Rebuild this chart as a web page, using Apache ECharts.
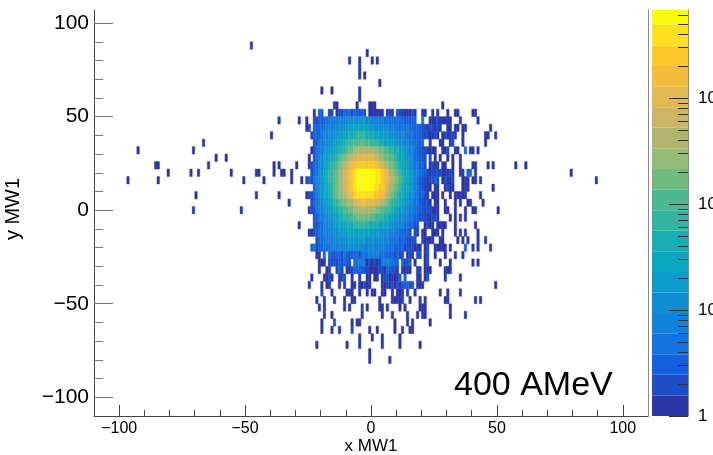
<!DOCTYPE html>
<html>
<head>
<meta charset="utf-8">
<title>x MW1 vs y MW1</title>
<style>
	html, body { margin: 0; padding: 0; background: #fff; }
	#main { width: 713px; height: 455px; }
</style>
<script src="https://cdn.jsdelivr.net/npm/echarts@6/dist/echarts.min.js"></script>
</head>
<body>
<div id="main"></div>
<script>
	/*------------------------------- Data Start -------------------------------*/

	// contour level of each cell, 0 = empty. every row runs x = -26 .. 24, named by its lower y edge
	const y50 = [0,0,0,1,0,3,3,0,0,1, 2,0,1,2,2,3,3,3,2,3, 3,2,3,2,0,1,1,1,1,1, 1,0,1,2,1,0,2,2,1,1, 1,1,2,1,0,0,1,1,0,0,1];
	const y46 = [1,0,0,2,2,3,3,3,4,4, 5,4,5,5,5,5,6,6,6,6, 6,6,7,7,6,6,5,5,5,5, 5,4,4,4,4,4,4,4,3,3, 3,3,3,3,0,0,4,0,0,1,1];
	const y42 = [1,2,0,3,3,3,4,4,5,5, 5,5,6,6,6,6,7,7,8,8, 8,8,8,8,8,7,7,6,6,6, 6,6,5,5,5,5,4,4,4,4, 4,4,3,3,3,3,2,2,1,2,2];
	const y38 = [0,0,2,3,4,3,4,5,5,6, 6,6,7,7,7,8,8,9,9,9, 10,10,10,10,9,9,9,8,8,8, 7,7,7,6,6,6,5,5,5,5, 4,4,4,3,3,3,2,2,2,1,1];
	const y34 = [0,0,0,2,3,4,5,5,6,6, 7,7,8,8,9,9,10,10,11,11, 11,11,12,11,11,11,10,10,10,9, 9,8,8,8,7,7,6,6,6,5, 5,5,4,4,3,3,3,0,0,1,0];
	const y30 = [0,0,1,2,4,4,5,6,7,7, 8,8,9,9,10,10,11,12,12,13, 14,14,14,14,14,14,14,13,13,12, 12,11,11,10,10,9,9,8,8,7, 6,5,5,4,3,3,2,2,1,1,1];
	const y26 = [0,1,0,2,4,5,6,7,7,8, 9,9,10,11,12,12,13,14,15,15, 16,16,16,16,16,16,16,15,15,14, 13,12,12,11,11,10,9,8,8,7, 6,6,5,4,3,3,2,2,0,2,0];
	const y22 = [0,1,2,3,4,5,6,7,8,9, 10,10,11,12,13,14,15,16,17,17, 18,18,18,18,18,18,18,18,17,16, 15,14,13,12,12,11,10,9,8,8, 7,6,5,4,4,3,3,2,0,1,2];
	const y18 = [0,0,2,3,4,6,7,8,9,10, 10,11,12,13,14,15,16,17,18,19, 20,20,20,20,20,20,20,20,19,19, 18,17,16,14,13,12,11,10,9,8, 8,7,6,5,5,4,3,3,2,1,2];
	const y14 = [2,3,2,4,5,6,7,8,9,10, 10,11,12,13,14,15,16,17,18,19, 20,20,20,20,20,20,20,20,19,19, 18,17,16,15,14,13,12,11,10,9, 8,7,6,5,4,3,2,2,1,2,2];
	const y10 = [0,0,0,3,5,6,7,8,9,9, 10,11,12,13,14,15,16,17,18,19, 20,20,20,20,20,20,20,19,19,18, 18,17,15,14,13,12,11,10,9,8, 8,7,6,5,4,3,2,2,1,1,0];
	const y6 = [1,2,2,3,5,6,7,8,8,9, 10,11,12,13,13,14,15,16,17,18, 19,19,19,19,19,19,19,18,18,17, 17,16,14,13,12,11,10,9,9,8, 7,6,6,5,4,3,3,2,1,0,1];
	const y2 = [0,0,2,3,4,5,6,7,8,8, 9,10,10,11,12,12,13,14,14,15, 16,16,17,17,16,16,16,16,15,15, 14,13,12,11,10,10,9,9,8,7, 6,6,5,4,4,3,2,2,2,1,0];
	const yM2 = [0,1,2,2,4,5,5,6,7,7, 8,9,9,10,10,11,11,12,12,13, 14,14,14,14,14,14,13,13,12,12, 11,11,10,10,9,9,8,7,7,6, 5,5,4,4,3,3,2,2,2,2,1];
	const yM6 = [0,0,0,2,3,4,5,5,6,6, 7,7,8,9,9,10,10,10,11,11, 12,12,12,12,12,12,11,11,10,10, 10,9,9,8,8,7,7,6,6,5, 5,4,4,3,3,2,2,2,1,1,2];
	const yM10 = [0,0,0,2,2,3,4,5,5,6, 6,7,7,8,8,8,9,9,9,10, 10,10,10,10,10,9,9,9,9,8, 8,8,7,7,6,6,5,5,5,4, 4,3,3,2,2,0,0,1,2,1,1];
	const yM14 = [0,1,1,2,3,4,4,5,5,5, 6,6,6,7,7,7,8,8,8,8, 8,8,8,8,8,8,7,7,7,7, 6,6,6,5,5,5,4,4,3,3, 3,2,0,2,1,0,1,1,0,0,1];
	const yM18 = [0,0,0,0,2,3,4,4,5,5, 5,5,6,6,6,6,6,7,7,7, 7,7,7,7,6,6,7,6,6,6, 6,5,5,5,4,4,4,3,3,3, 2,2,2,2,0,0,2,1,1,1,1];
	const yM22 = [0,0,3,4,2,3,3,4,4,4, 5,5,5,5,5,5,6,6,6,6, 6,6,6,5,5,5,6,5,5,5, 5,5,4,4,4,3,3,3,3,2, 2,2,2,1,1,1,0,1,2,0,0];
	const yM26 = [0,0,0,0,1,1,0,3,0,3, 3,2,3,3,2,4,3,2,3,3, 4,2,4,4,4,5,5,5,5,4, 4,4,3,3,3,2,3,2,2,0, 1,2,1,0,2,2,0,1,2,0,0];
	const yM30 = [0,0,0,0,0,1,1,1,0,2, 2,2,2,3,2,3,3,2,0,4, 4,5,5,4,1,2,1,2,1,2, 4,5,5,5,4,4,3,0,3,2, 2,3,0,1,0,0,0,1,2,0,0];
	const yM34 = [0,0,0,0,0,1,0,0,1,1, 0,0,2,3,2,0,1,1,2,3, 3,3,3,2,2,1,1,1,1,2, 2,1,3,3,2,2,1,0,1,1, 1,1,0,0,1,2,0,1,1,1,0];

	const denseRows = [
		[50, y50], [46, y46], [42, y42], [38, y38], [34, y34], [30, y30], [26, y26], [22, y22],
		[18, y18], [14, y14], [10, y10], [6, y6], [2, y2], [-2, yM2], [-6, yM6], [-10, yM10],
		[-14, yM14], [-18, yM18], [-22, yM22], [-26, yM26], [-30, yM30], [-34, yM34]
	];

	// single count cells outside the block: [y, [x, x, ...]]
	const tailRows = [
		[86, [-48]],
		[82, [-2]],
		[78, [-9,-5,0,2]],
		[74, [-5]],
		[70, [-5,-3]],
		[66, [3]],
		[62, [-20,-16,-5]],
		[58, [-5]],
		[54, [-15,-14,-6,-1,0,1,28]],
		[50, [26,30,33,34,40,41]],
		[46, [-37,-29,25,27,28,29,30,31,35,42]],
		[42, [25,27,30,31,33,34,36,37,47]],
		[38, [-40,26,28,30,31,33,36,45,46,49]],
		[34, [-67,27,28,31,36,45]],
		[30, [-93,-71,25,28,29,33,34,39,40,42]],
		[26, [-62,-58,25,27,30,32,35]],
		[22, [-86,-85,-65,-39,-37,-30,25,26,28,29,32,35,40,41,46,48,57,61]],
		[18, [-81,-72,-69,-56,-46,-45,-39,-36,-35,-32,28,29,30,32,35,36,41,79]],
		[14, [-97,-85,-51,-43,-32,-28,28,30,31,36,37,38,40,41,43,89]],
		[10, [25,26,29,31,32,36,37,38,48]],
		[6, [-70,-46,-37,25,26,28,31,33,34,35,36,37,43]],
		[2, [-33,25,26,29,33,35,38,39,44]],
		[-2, [-71,-52,25,26,29,30,33,37,40,41,50]],
		[-6, [26,31,33,35,37]],
		[-10, [-29,26,27,28,29,33,41]],
		[-14, [25,26,28,33,35,37,42]],
		[-18, [27,28,34,36,38,42,45]],
		[-22, [25,26,27,28,29,31,40,42,47]],
		[-26, [25,29,33,36]],
		[-30, [27,31,40,42]],
		[-34, [29,30,31]],
		[-38, [-24,-19,-18,-16,-13,-8,-5,-2,-1,1,2,4,7,8,9,10,18,19,21,29,35]],
		[-42, [-25,-20,-18,-17,-13,-11,-8,-7,-5,-4,-2,-1,4,5,7,9,11,18,19,20,49]],
		[-46, [-16,-10,-9,-8,-5,-2,0,1,4,5,8,10,11,12,14,17,27,30,35]],
		[-50, [-22,-19,-15,-11,-8,-7,3,8,9,10,11,12,15,19,21,29,30,41,43]],
		[-54, [-21,-19,-11,-9,-2,3,4,6,11,13,19,20,21,31]],
		[-58, [-19,-16,-4,4,8,14,18,20,21,31,37]],
		[-62, [-20,-8,-6,-5,9,14,16,23]],
		[-66, [-20,-16,-13,-1,2,9,12,15,16]],
		[-70, [-5,0,4,11]],
		[-74, [-22,-10,-5,4,11,19]],
		[-78, [-1]],
		[-82, [-1,7]]
	];

	// the few outside cells that are one or two contours up: [x, y]
	const tailLevel2 = [[-17,-38],[-12,-38],[-11,-38],[5,-38],[6,-38],[22,-38],[-3,-42],[6,-42],[8,-42],[10,-42],[12,-42],[15,-42],[16,-42],
		[-20,-46],[-4,-54],[-15,-62],[-8,-66],[26,46],[26,42],[25,38],[29,38],[32,38],[32,34],[30,30],[25,18],[26,18],[27,18],[31,18],
		[26,14],[29,14],[32,14],[30,10],[25,-6]];
	const tailLevel3 = [[37,30],[38,18],[39,18],[25,14],[37,-22],[11,-38],[13,-38],[13,-42],[14,-42]];

	const firstColumn = -26;

	// palette, bottom contour first
	const contourColors = ['#2b36a8','#1c4cc8','#1461dd','#1272e0','#1281da','#0f8dd2','#0c9acb','#0aa5c0','#17adb2','#32b4a0',
		'#4db98f','#6fbb82','#93bc75','#afb56e','#cbb464','#e0b950','#f2bd3c','#fcc92a','#fee11c','#f9fb0e'];
	const contourEdges = [1,1.56,2.45,3.82,5.98,9.35,14.6,22.9,35.8,56,87.6,137,214,335,524,820,1280,2010,3140,4910,6780];

	const xMajor = [-100,-50,0,50,100];
	const xMinor = [-90,-80,-70,-60,-40,-30,-20,-10,10,20,30,40,60,70,80,90];
	const yMajor = [-100,-50,0,50,100];
	const yMinor = [-90,-80,-70,-60,-40,-30,-20,-10,10,20,30,40,60,70,80,90];
	const zMajor = [1,10,100,1000];
	const zMinor = [2,3,4,5,6,7,8,9,20,30,40,50,60,70,80,90,200,300,400,500,600,700,800,900,2000,3000,4000,5000,6000];

	/*------------------------------- Data End ---------------------------------*/

	const binHeight = 4;
	let cells = [];

	for (let row of denseRows) {
		row[1].forEach(function(level, i) {
			if (level > 0) {
				cells.push([firstColumn + i, row[0], level]);
			}
		});
	}
	for (let row of tailRows) {
		for (let x of row[1]) {
			cells.push([x, row[0], 1]);
		}
	}
	for (let c of tailLevel2) {
		cells.push([c[0], c[1], 2]);
	}
	for (let c of tailLevel3) {
		cells.push([c[0], c[1], 3]);
	}

	let bands = contourColors.map(function(color, i) {
		return [contourEdges[i], contourEdges[i + 1], i];
	});

	const fontName = '"Liberation Sans", Arial, sans-serif';
	const axisColor = '#444';

	let minus = function(value) {
		return String(value).replace('-', '\u2212');
	};

	let chart = echarts.init(document.getElementById('main'), null, { renderer: 'canvas' });

	chart.setOption({
		animation: false,
		backgroundColor: '#fff',
		textStyle: { fontFamily: fontName },
		grid: [
			{ left: 94, top: 10, width: 554, height: 406, outerBoundsMode: 'none' },
			{ left: 652, top: 10, width: 36, height: 406, outerBoundsMode: 'none' }
		],
		xAxis: [
			{
				type: 'value', gridIndex: 0, min: -110, max: 110, position: 'bottom',
				name: 'x MW1', nameLocation: 'middle', nameGap: 22, nameMoveOverlap: false,
				nameTextStyle: { color: '#000', fontSize: 17, fontFamily: fontName },
				axisLine: { show: true, onZero: false, lineStyle: { color: axisColor, width: 1 } },
				axisTick: { show: true, inside: true, length: 11, customValues: xMajor, lineStyle: { color: axisColor, width: 1 } },
				axisLabel: { color: '#000', fontSize: 16, margin: 5, customValues: xMajor, formatter: minus, fontFamily: fontName },
				splitLine: { show: false }
			}, {
				type: 'value', gridIndex: 0, min: -110, max: 110, position: 'bottom',
				axisLine: { show: false, onZero: false },
				axisTick: { show: true, inside: true, length: 6, customValues: xMinor, lineStyle: { color: axisColor, width: 1 } },
				axisLabel: { show: false },
				splitLine: { show: false }
			}, {
				type: 'value', gridIndex: 1, min: 0, max: 1, show: false
			}
		],
		yAxis: [
			{
				type: 'value', gridIndex: 0, min: -110, max: 107, position: 'left',
				name: 'y MW1', nameLocation: 'middle', nameGap: 71, nameRotate: 90, nameMoveOverlap: false,
				nameTextStyle: { color: '#000', fontSize: 20, fontFamily: fontName, padding: [0, 0, 0, 8] },
				axisLine: { show: true, onZero: false, lineStyle: { color: axisColor, width: 1 } },
				axisTick: { show: true, inside: true, length: 19, customValues: yMajor, lineStyle: { color: '#777', width: 1 } },
				axisLabel: { color: '#000', fontSize: 21, margin: 5, padding: [6, 0, 0, 0], customValues: yMajor, formatter: minus, fontFamily: fontName },
				splitLine: { show: false }
			}, {
				type: 'value', gridIndex: 0, min: -110, max: 107, position: 'left',
				axisLine: { show: false, onZero: false },
				axisTick: { show: true, inside: true, length: 9, customValues: yMinor, lineStyle: { color: '#777', width: 1 } },
				axisLabel: { show: false },
				splitLine: { show: false }
			}, {
				type: 'value', gridIndex: 0, min: -110, max: 107, position: 'right',
				axisLine: { show: true, onZero: false, lineStyle: { color: '#888', width: 1 } },
				axisTick: { show: false },
				axisLabel: { show: false },
				splitLine: { show: false }
			}, {
				type: 'log', logBase: 10, gridIndex: 1, min: 1, max: 6780, position: 'right',
				axisLine: { show: true, onZero: false, lineStyle: { color: '#888', width: 1 } },
				axisTick: { show: true, inside: true, length: 19, customValues: zMajor, lineStyle: { color: '#333', width: 1 } },
				axisLabel: {
					color: '#000', fontSize: 17, margin: 10, padding: [7, 0, 0, 0], customValues: zMajor, fontFamily: fontName,
					formatter: function(value) { return value === 1 ? '1' : '10'; }
				},
				splitLine: { show: false }
			}, {
				type: 'log', logBase: 10, gridIndex: 1, min: 1, max: 6780, position: 'right',
				axisLine: { show: false, onZero: false },
				axisTick: { show: true, inside: true, length: 10, customValues: zMinor, lineStyle: { color: '#333', width: 1 } },
				axisLabel: { show: false },
				splitLine: { show: false }
			}
		],
		graphic: [{
			type: 'text', left: 454, top: 369,
			style: { text: '400 AMeV', fill: '#000', font: '34px ' + fontName }
		}],
		series: [
			{
				type: 'custom', xAxisIndex: 0, yAxisIndex: 0, data: cells, clip: true, z: 1,
				renderItem: function(params, api) {
					let x = api.value(0), y = api.value(1);
					let a = api.coord([x, y + binHeight]);
					let b = api.coord([x + 1, y]);
					let color = contourColors[api.value(2) - 1];
					return {
						type: 'rect',
						shape: { x: a[0], y: a[1], width: b[0] - a[0], height: b[1] - a[1] },
						style: { fill: color, stroke: color, lineWidth: 0.4 }
					};
				}
			}, {
				type: 'custom', xAxisIndex: 2, yAxisIndex: 3, data: bands, z: 0,
				renderItem: function(params, api) {
					let a = api.coord([0, api.value(1)]);
					let b = api.coord([1, api.value(0)]);
					return {
						type: 'rect',
						shape: { x: a[0], y: a[1], width: b[0] - a[0], height: b[1] - a[1] },
						style: { fill: contourColors[api.value(2)] }
					};
				}
			}
		]
	});
</script>
</body>
</html>
